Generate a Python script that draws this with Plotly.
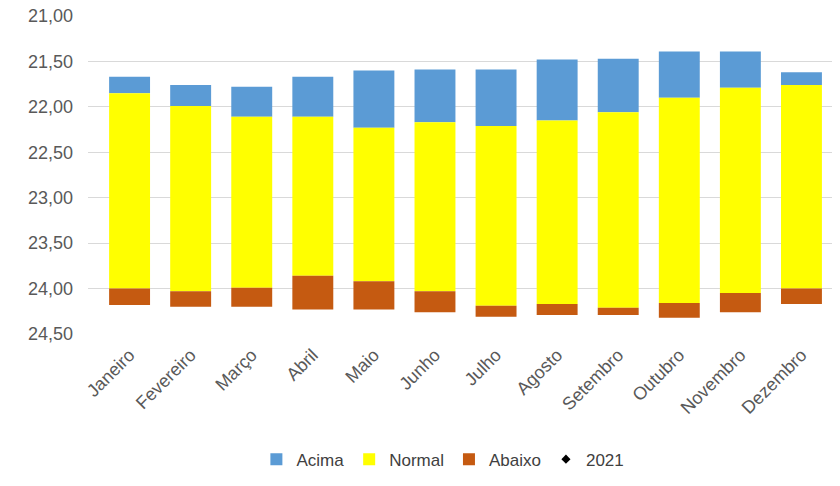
"""Stacked range bars (Acima / Normal / Abaixo) per month, reversed axis."""
import plotly.graph_objects as go

MESES = ["Janeiro", "Fevereiro", "Março", "Abril", "Maio", "Junho",
         "Julho", "Agosto", "Setembro", "Outubro", "Novembro", "Dezembro"]

# Band limits (top of Acima -> bottom of Abaixo)
LIMITE_TOPO = [21.67, 21.76, 21.78, 21.67, 21.60, 21.59,
               21.59, 21.48, 21.47, 21.39, 21.39, 21.62]
LIMITE_ACIMA = [21.85, 21.99, 22.11, 22.11, 22.23, 22.17,
                22.21, 22.15, 22.06, 21.90, 21.79, 21.76]
LIMITE_ABAIXO = [24.00, 24.03, 23.99, 23.86, 23.92, 24.03,
                 24.19, 24.17, 24.21, 24.16, 24.05, 24.00]
LIMITE_BASE = [24.18, 24.20, 24.20, 24.23, 24.23, 24.26,
               24.31, 24.29, 24.29, 24.32, 24.26, 24.17]

# 2021 series appears in the legend only (no visible points)
SERIE_2021 = [None]

FONT = "Liberation Sans"
GREY = "#595959"


def _band(name, lo, hi, color):
    return go.Bar(
        x=MESES,
        base=lo,
        y=[h - l for l, h in zip(lo, hi)],
        name=name,
        marker=dict(color=color, line=dict(width=0)),
    )


fig = go.Figure()
fig.add_trace(_band("Acima", LIMITE_TOPO, LIMITE_ACIMA, "#5B9BD5"))
fig.add_trace(_band("Normal", LIMITE_ACIMA, LIMITE_ABAIXO, "#FFFF00"))
fig.add_trace(_band("Abaixo", LIMITE_ABAIXO, LIMITE_BASE, "#C55A11"))
fig.add_trace(
    go.Scatter(
        x=MESES[:len(SERIE_2021)],
        y=SERIE_2021,
        name="2021",
        mode="markers",
        marker=dict(symbol="diamond", color="black", size=7),
        showlegend=True,
    )
)

fig.update_layout(
    width=840,
    height=486,
    barmode="overlay",
    bargap=0.33,
    separators=",.",
    plot_bgcolor="white",
    paper_bgcolor="white",
    font=dict(family=FONT, size=17, color=GREY),
    margin=dict(l=88, r=8, t=16, b=145),
    xaxis=dict(
        tickangle=-45,
        tickfont=dict(size=18, color=GREY),
        showgrid=False,
        showline=False,
        ticks="",
        ticklabelstandoff=6,
        automargin=False,
    ),
    yaxis=dict(
        range=[24.5, 21.0],
        dtick=0.5,
        tickformat=".2f",
        tickfont=dict(size=18, color=GREY),
        gridcolor="#D9D9D9",
        zeroline=False,
        showline=False,
        ticks="",
        ticklabelstandoff=14,
        automargin=False,
    ),
    legend=dict(
        orientation="h",
        x=0.477,
        xanchor="center",
        y=-0.395,
        yanchor="middle",
        font=dict(size=17, color="#404040"),
        itemwidth=30,
        traceorder="normal",
    ),
    showlegend=True,
)

# drop the page's default body margin so the 840x486 figure fills the window
fig.write_html(
    "out.html",
    config={"displayModeBar": False},
    post_script="document.body.style.margin='0';document.body.style.overflow='hidden';",
)
